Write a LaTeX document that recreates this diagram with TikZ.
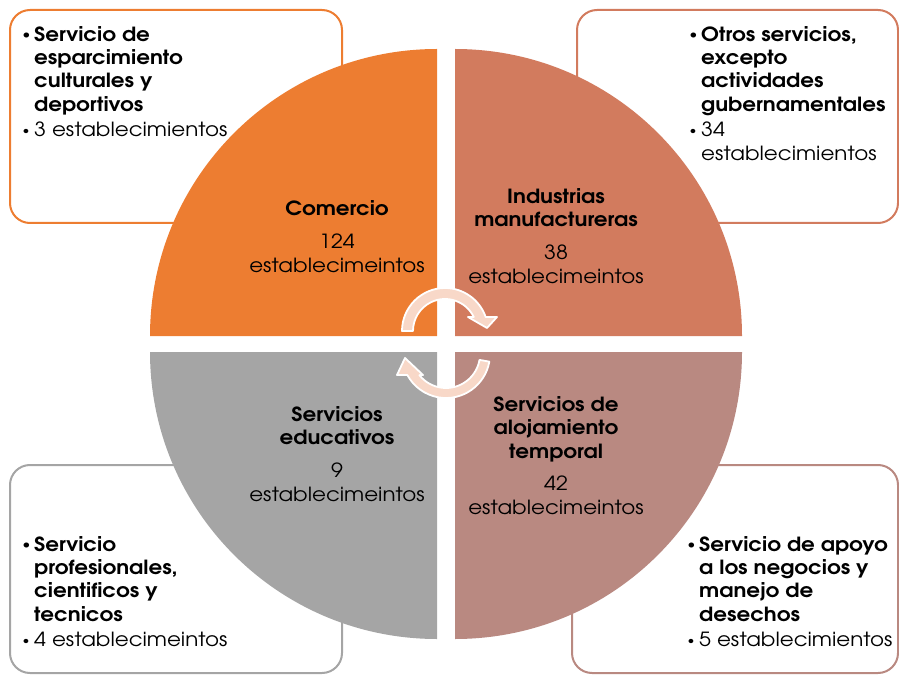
\documentclass[tikz,border=0pt]{standalone}
\usepackage{fontspec}
\setmainfont[FakeStretch=1.1]{TeX Gyre Adventor}
\definecolor{corange}{HTML}{ED7D31}
\definecolor{ccoral}{HTML}{D27B5E}
\definecolor{cmauve}{HTML}{B98981}
\definecolor{cgray}{HTML}{A5A5A5}
\definecolor{carrow}{HTML}{F8D8C8}
\newcommand\bl{\makebox[13pt][l]{\hspace{1.5pt}\raisebox{2.2pt}{\fontsize{12}{12}\selectfont\textbullet}}}
\newcommand\ind{\hspace*{13pt}}
\tikzset{
  boxframe/.style={line width=2pt, rounded corners=20pt},
  boxtext/.style={anchor=north west, inner sep=0pt, align=left,
    font=\fontsize{19.5}{23.3}\selectfont},
  qtitle/.style={anchor=north, inner sep=0pt, align=center,
    font=\fontsize{19.5}{23.5}\selectfont\bfseries},
  qnum/.style={anchor=north, inner sep=0pt, align=center,
    font=\fontsize{19.5}{24}\selectfont},
  circarrow/.style={fill=carrow, draw=white, line width=1.8pt, line join=round}
}
\begin{document}
\begin{tikzpicture}[x=1pt,y=-1pt]
\useasboundingbox (0,0) rectangle (899,676);
% outer boxes
\draw[boxframe, draw=corange] (10,10) rectangle (342,223);
\draw[boxframe, draw=ccoral] (577,10) rectangle (898,223);
\draw[boxframe, draw=cgray] (10,465) rectangle (342,673);
\draw[boxframe, draw=cmauve] (572,465) rectangle (898,673);
% quadrants
\fill[corange] (437,336) -- (150,336) arc[start angle=180, end angle=270, radius=287] -- cycle;
\fill[ccoral] (455,336) -- (455,49) arc[start angle=270, end angle=360, radius=287] -- cycle;
\fill[cgray] (437,352) -- (437,639) arc[start angle=90, end angle=180, radius=287] -- cycle;
\fill[cmauve] (455,352) -- (742,352) arc[start angle=0, end angle=90, radius=287] -- cycle;
% circular arrows
\begin{scope}[shift={(445,331)}]
\draw[circarrow] (180:43) arc[start angle=180, end angle=341, radius=43]
  -- (52,-14) -- (42,-3) -- (23,-14) -- (334:32)
  arc[start angle=334, end angle=180, radius=32] -- cycle;
\end{scope}
\begin{scope}[shift={(446,354)}]
\draw[circarrow] (10:44) arc[start angle=10, end angle=151.5, radius=44]
  -- (-49,21) -- (-41,4) -- (-23,21) -- (141.5:34)
  arc[start angle=141.5, end angle=10, radius=34] -- cycle;
\end{scope}
% quadrant labels
\node[qtitle] (comt) at (337,200) {Comercio};
\node[qnum] (comn) at (337,234) {124\\establecimeintos};
\node[qtitle] (indt) at (556,188) {Industrias\\manufactureras};
\node[qnum] (indn) at (556,245) {38\\establecimeintos};
\node[qtitle] (edut) at (337,406) {Servicios\\educativos};
\node[qnum] (edun) at (337,463) {9\\establecimeintos};
\node[qtitle] (alot) at (556,396) {Servicios de\\alojamiento\\temporal};
\node[qnum] (alon) at (556,476) {42\\establecimeintos};
% box texts
\node[boxtext] (tltext) at (21,26) {\bfseries\bl Servicio de\\\bfseries\ind esparcimiento\\\bfseries\ind culturales y\\\bfseries\ind deportivos\\[2pt]\bl 3 establecimientos};
\node[boxtext] (trtext) at (688,26) {\bfseries\bl Otros servicios,\\\bfseries\ind excepto\\\bfseries\ind actividades\\\bfseries\ind gubernamentales\\[2pt]\bl 34\\[1pt]\ind establecimientos};
\node[boxtext] (bltext) at (21,536) {\bfseries\bl Servicio\\\bfseries\ind profesionales,\\\bfseries\ind cientificos y\\\bfseries\ind tecnicos\\[2pt]\bl 4 establecimeintos};
\node[boxtext] (brtext) at (686,536) {\bfseries\bl Servicio de apoyo\\\bfseries\ind a los negocios y\\\bfseries\ind manejo de\\\bfseries\ind desechos\\[2pt]\bl 5 establecimientos};
\end{tikzpicture}
\end{document}
